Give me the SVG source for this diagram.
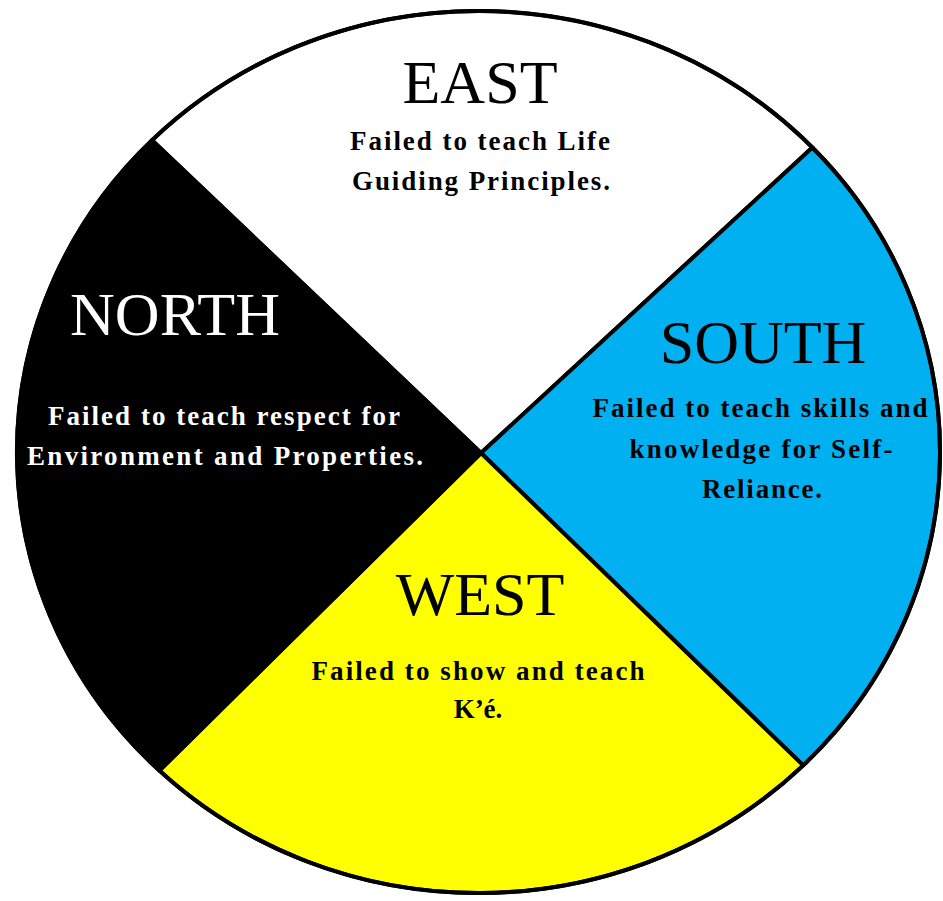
<svg xmlns="http://www.w3.org/2000/svg" width="943" height="901" viewBox="0 0 943 901">
<style>
.sector{stroke:#000;stroke-width:4;stroke-linejoin:round}
.title{font-family:"Liberation Serif","Times New Roman",serif;font-size:62px;text-anchor:middle}
.body{font-family:"Liberation Serif","Times New Roman",serif;font-size:27px;font-weight:bold;text-anchor:middle}
.dark{fill:#000}
.light{fill:#fff}
</style>
<rect x="0" y="0" width="943" height="901" fill="#fff"/>
<g id="east">
<path class="sector" fill="#fff" d="M481,453 L152,140.2 A461.5,441 0 0,1 812.4,147.5 Z"/>
<text class="title dark" x="480" y="103">EAST</text>
<text class="body dark" x="480" y="150" textLength="260" lengthAdjust="spacing">Failed to teach Life</text>
<text class="body dark" x="481" y="190" textLength="258" lengthAdjust="spacing">Guiding Principles.</text>
</g>
<g id="south">
<path class="sector" fill="#00B0F0" d="M481,453 L812.4,147.5 A461.5,441 0 0,1 803.2,765.4 Z"/>
<text class="title dark" x="763" y="363">SOUTH</text>
<text class="body dark" x="760" y="417" textLength="335" lengthAdjust="spacing">Failed to teach skills and</text>
<text class="body dark" x="761" y="458" textLength="263" lengthAdjust="spacing">knowledge for Self-</text>
<text class="body dark" x="762" y="498" textLength="120" lengthAdjust="spacing">Reliance.</text>
</g>
<g id="west">
<path class="sector" fill="#FFFF00" d="M481,453 L803.2,765.4 A461.5,441 0 0,1 159.4,770.6 Z"/>
<text class="title dark" x="480" y="615">WEST</text>
<text class="body dark" x="478" y="680" textLength="333" lengthAdjust="spacing">Failed to show and teach</text>
<text class="body dark" x="478" y="718">K’é.</text>
</g>
<g id="north">
<path class="sector" fill="#000" d="M481,453 L159.4,770.6 A461.5,441 0 0,1 152,140.2 Z"/>
<text class="title light" x="175" y="335">NORTH</text>
<text class="body light" x="224" y="425" textLength="352" lengthAdjust="spacing">Failed to teach respect for</text>
<text class="body light" x="225" y="465" textLength="396" lengthAdjust="spacing">Environment and Properties.</text>
</g>
<g id="connectors">
<ellipse cx="478.5" cy="452" rx="461.5" ry="441" fill="none" stroke="#000" stroke-width="4"/>
</g>
</svg>
